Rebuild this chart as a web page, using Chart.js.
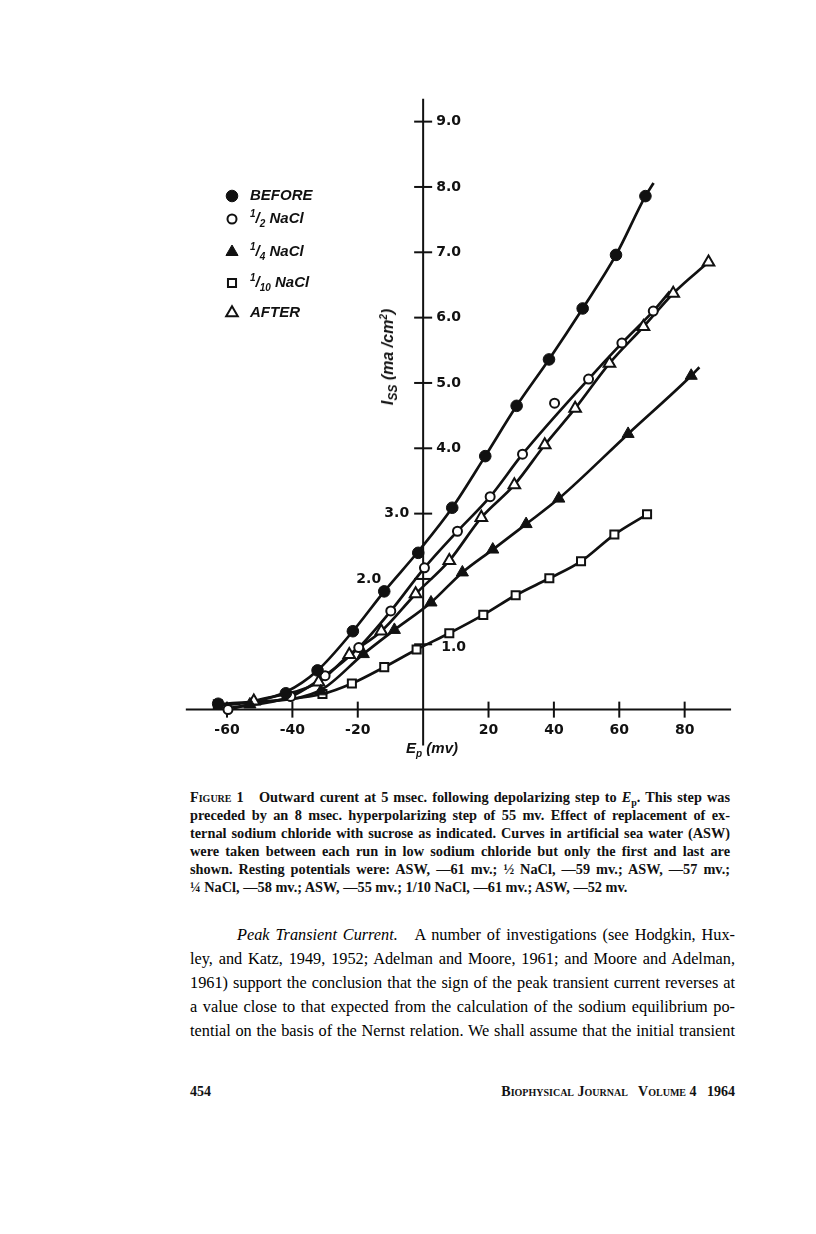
<!DOCTYPE html>
<html>
<head>
<meta charset="utf-8">
<script src="https://cdn.jsdelivr.net/npm/chart.js@4.4.0/dist/chart.umd.min.js"></script>
<style>
  html, body { margin:0; padding:0; background:#fff; }
  body { width:816px; height:1234px; position:relative; overflow:hidden; color:#111; }
  #chart-box { position:absolute; left:170px; top:70px; width:580px; height:700px; }
  .legend { position:absolute; left:250px; height:20px; line-height:20px; margin-top:-10px;
            font: italic bold 15px "Liberation Sans", Arial, sans-serif; white-space:nowrap; }
  .legend sup, .legend sub { font-size:10px; line-height:0; }
  .axis-title { position:absolute; font: italic bold 15px "Liberation Sans", Arial, sans-serif; white-space:nowrap; }
  .axis-title sub, .axis-title sup { font-size:10px; line-height:0; }
  #ytitle { left:388px; top:357px; transform: translate(-50%,-50%) rotate(-90deg); font-size:16px; }
  #ytitle sub { font-size:12px; }
  #xtitle { left:432px; top:747px; transform: translate(-50%,-50%); }
  .block { position:absolute; left:190px; font-family:"Liberation Serif", "Times New Roman", serif; }
  .line { display:block; white-space:nowrap; }
  .line sub { line-height:0; font-size:70%; }
  #caption { top:788px; width:540px; font-size:14.3px; font-weight:bold; line-height:18px; }
  #caption .line { width:540px; }
  #body { top:923px; width:545px; font-size:16.3px; line-height:24px; color:#000; }
  #body .line { width:545px; }
  #body .line.indent { margin-left:47px; width:498px; }
  .sc { font-variant: small-caps; }
  #footer { top:1083px; width:545px; font-size:14px; font-weight:bold; line-height:18px; }
  #footer .right { position:absolute; right:0; top:0; }
</style>
</head>
<body>

<div id="chart-box"><canvas id="fig1" width="580" height="700"></canvas></div>

<!-- legend text (markers are drawn on the canvas) -->
<div class="legend" style="top:196px">BEFORE</div>
<div class="legend" style="top:219px"><sup>1</sup>/<sub>2</sub> NaCl</div>
<div class="legend" style="top:252px"><sup>1</sup>/<sub>4</sub> NaCl</div>
<div class="legend" style="top:283px"><sup>1</sup>/<sub>10</sub> NaCl</div>
<div class="legend" style="top:313px">AFTER</div>

<div class="axis-title" id="ytitle">I<sub>SS</sub> (ma /cm<sup>2</sup>)</div>
<div class="axis-title" id="xtitle">E<sub>p</sub> (mv)</div>

<div class="block" id="caption">
  <span class="line"><span><span class="sc">Figure</span> 1&nbsp;&nbsp; Outward curent at 5 msec. following depolarizing step to <i>E</i><sub>p</sub>. This step was</span></span>
  <span class="line"><span>preceded by an 8 msec. hyperpolarizing step of 55 mv. Effect of replacement of ex-</span></span>
  <span class="line"><span>ternal sodium chloride with sucrose as indicated. Curves in artificial sea water (ASW)</span></span>
  <span class="line"><span>were taken between each run in low sodium chloride but only the first and last are</span></span>
  <span class="line"><span>shown. Resting potentials were: ASW, —61 mv.; ½ NaCl, —59 mv.; ASW, —57 mv.;</span></span>
  <span class="line last"><span>¼ NaCl, —58 mv.; ASW, —55 mv.; 1/10 NaCl, —61 mv.; ASW, —52 mv.</span></span>
</div>

<div class="block" id="body">
  <span class="line indent"><span><i>Peak Transient Current.</i>&nbsp;&nbsp; A number of investigations (see Hodgkin, Hux-</span></span>
  <span class="line"><span>ley, and Katz, 1949, 1952; Adelman and Moore, 1961; and Moore and Adelman,</span></span>
  <span class="line"><span>1961) support the conclusion that the sign of the peak transient current reverses at</span></span>
  <span class="line"><span>a value close to that expected from the calculation of the sodium equilibrium po-</span></span>
  <span class="line"><span>tential on the basis of the Nernst relation. We shall assume that the initial transient</span></span>
</div>

<div class="block" id="footer">
  <span>454</span>
  <span class="right sc">Biophysical Journal&nbsp;&nbsp; Volume 4&nbsp;&nbsp; 1964</span>
</div>

<script>
//data: E_p in mv, I_ss in ma/cm2

//BEFORE (filled circles)
const beforeX = [-62.7, -42, -32.3, -21.5, -11.9, -1.5, 8.9, 19, 28.6, 38.5, 48.8, 59, 68];
const beforeY = [0.09, 0.25, 0.6, 1.2, 1.81, 2.4, 3.09, 3.88, 4.65, 5.36, 6.14, 6.96, 7.86];
const beforeLineX = [-62.7, -52, -42, -32.3, -21.5, -11.9, -1.5, 8.9, 19, 28.6, 38.5, 48.8, 59, 68, 70.5];
const beforeLineY = [0.06, 0.12, 0.27, 0.6, 1.2, 1.81, 2.42, 3.09, 3.88, 4.65, 5.36, 6.14, 6.96, 7.86, 8.06];

//1/2 NaCl (open circles)
const halfX = [-59.7, -40.5, -30, -19.7, -9.9, 0.4, 10.5, 20.5, 30.4, 40.2, 50.6, 60.8, 70.4];
const halfY = [0.0, 0.2, 0.52, 0.95, 1.51, 2.17, 2.73, 3.26, 3.91, 4.69, 5.06, 5.61, 6.1];
const halfLineX = [-59.7, -40.5, -30, -19.7, -9.9, 0.4, 10.5, 20.5, 30.4, 50.6, 60.8, 70.4, 75.5];
const halfLineY = [0.02, 0.2, 0.52, 0.95, 1.51, 2.17, 2.73, 3.26, 3.91, 5.06, 5.61, 6.1, 6.4];

//1/4 NaCl (filled triangles)
const quarterX = [-53, -31.3, -18.3, -8.8, 2.4, 12, 21.3, 31.5, 41.5, 62.7, 82];
const quarterY = [0.08, 0.28, 0.85, 1.22, 1.64, 2.1, 2.45, 2.84, 3.23, 4.22, 5.11];
const quarterLineX = [-58, -53, -31.3, -18.3, -8.8, 2.4, 12, 21.3, 31.5, 41.5, 62.7, 82, 84.5];
const quarterLineY = [0.02, 0.08, 0.3, 0.85, 1.22, 1.64, 2.1, 2.45, 2.84, 3.23, 4.22, 5.11, 5.24];

//1/10 NaCl (open squares)
const tenthX = [-62.8, -30.8, -21.8, -11.9, -2, 8, 18.4, 28.3, 38.6, 48.3, 58.5, 68.5];
const tenthY = [0.08, 0.24, 0.4, 0.65, 0.92, 1.17, 1.45, 1.75, 2.01, 2.27, 2.68, 2.99];

//AFTER (open triangles)
const afterX = [-51.8, -32, -22.6, -12.8, -2.3, 8, 17.8, 27.9, 37.2, 46.5, 57, 67.4, 76.5, 87.3];
const afterY = [0.13, 0.42, 0.84, 1.2, 1.77, 2.28, 2.94, 3.44, 4.05, 4.61, 5.3, 5.86, 6.37, 6.85];

//axes
const xTickValues = [-60, -40, -20, 20, 40, 60, 80];
const xTickLabels = ['-60', '-40', '-20', '20', '40', '60', '80'];
const yTickValues = [1, 2, 3, 4, 5, 6, 7, 8, 9];
const yTickLabels = ['1.0', '2.0', '3.0', '4.0', '5.0', '6.0', '7.0', '8.0', '9.0'];
const xAxisRange = [-72.6, 94.2];
const yAxisRange = [-0.55, 9.35];

/////////////////////////////////////////////////////////
//functions

//turns two arrays into chart.js points
function pts(xs, ys){
	return xs.map(function(x, i){ return {x: x, y: ys[i]}; });
}

//a smooth black curve with no markers
function curve(xs, ys){
	return {
		data: pts(xs, ys),
		showLine: true,
		pointRadius: 0,
		borderColor: '#111',
		borderWidth: 2.7,
		cubicInterpolationMode: 'monotone',
		order: 2
	};
}

//marker styles, used for the plot and for the legend
const styles = {
	before:  {pointStyle: 'circle',   radius: 5.8, fill: '#111', borderWidth: 1},
	half:    {pointStyle: 'circle',   radius: 4.5, fill: '#fff', borderWidth: 2},
	quarter: {pointStyle: 'triangle', radius: 7,   fill: '#111', borderWidth: 1},
	tenth:   {pointStyle: 'rect',     radius: 5.7, fill: '#fff', borderWidth: 2},
	after:   {pointStyle: 'triangle', radius: 6.7, fill: '#fff', borderWidth: 2}
};

function markers(xs, ys, s){
	return {
		data: pts(xs, ys),
		showLine: false,
		pointStyle: s.pointStyle,
		pointRadius: s.radius,
		pointBackgroundColor: s.fill,
		pointBorderColor: '#111',
		pointBorderWidth: s.borderWidth,
		order: 0
	};
}

//axes through zero with ticks on both sides, plus the legend markers
const crossAxes = {
	id: 'crossAxes',
	beforeDatasetsDraw: function(chart){
		const ctx = chart.ctx;
		const xs = chart.scales.x, ys = chart.scales.y;
		const x0 = xs.getPixelForValue(0), y0 = ys.getPixelForValue(0);
		ctx.save();
		ctx.strokeStyle = '#111';
		ctx.fillStyle = '#111';
		ctx.lineWidth = 2;
		ctx.beginPath();
		ctx.moveTo(xs.getPixelForValue(xAxisRange[0]), y0);
		ctx.lineTo(xs.getPixelForValue(xAxisRange[1]), y0);
		ctx.moveTo(x0, ys.getPixelForValue(yAxisRange[0]));
		ctx.lineTo(x0, ys.getPixelForValue(yAxisRange[1]));
		ctx.stroke();

		ctx.font = 'bold 14px "DejaVu Sans", sans-serif';
		ctx.textBaseline = 'middle';
		//x ticks
		ctx.textAlign = 'center';
		for(let i = 0; i < xTickValues.length; i++){
			const px = xs.getPixelForValue(xTickValues[i]);
			ctx.beginPath();
			ctx.moveTo(px, y0 - 8);
			ctx.lineTo(px, y0 + 8);
			ctx.stroke();
			ctx.fillText(xTickLabels[i], px, y0 + 21);
		}
		//y ticks, 2.0 and 3.0 sit left of the axis in the original
		for(let i = 0; i < yTickValues.length; i++){
			const py = ys.getPixelForValue(yTickValues[i]);
			ctx.beginPath();
			ctx.moveTo(x0 - 9, py);
			ctx.lineTo(x0 + 9, py);
			ctx.stroke();
			if(yTickValues[i] == 2){
				ctx.textAlign = 'right';
				ctx.fillText(yTickLabels[i], x0 - 42, py);
			}else if(yTickValues[i] == 3){
				ctx.textAlign = 'right';
				ctx.fillText(yTickLabels[i], x0 - 14, py);
			}else if(yTickValues[i] == 1){
				ctx.textAlign = 'left';
				ctx.fillText(yTickLabels[i], x0 + 18, py + 3);
			}else{
				ctx.textAlign = 'left';
				ctx.fillText(yTickLabels[i], x0 + 13, py);
			}
		}

		//legend markers (page position minus canvas offset)
		const legendRows = [['before', 196], ['half', 219], ['quarter', 252], ['tenth', 283], ['after', 313]];
		legendRows.forEach(function(row){
			const s = styles[row[0]];
			ctx.fillStyle = s.fill;
			ctx.lineWidth = s.borderWidth;
			Chart.helpers.drawPoint(ctx, {pointStyle: s.pointStyle, radius: s.radius, rotation: 0, borderWidth: s.borderWidth}, 232 - 170, row[1] - 70);
		});
		ctx.restore();
	}
};

//justifies each text line to the width of its box
function fitLines(){
	document.querySelectorAll('.line').forEach(function(line){
		if(line.classList.contains('last')) return;
		const inner = line.firstElementChild;
		const natural = inner.getBoundingClientRect().width;
		const spaces = (inner.textContent.match(/[ \u00a0]/g) || []).length;
		if(spaces > 0){
			line.style.wordSpacing = ((line.clientWidth - natural) / spaces) + 'px';
		}
	});
}

///////////////////////////////////////////////////////////////////////////////
//code

//x: 0 mv at page x 422, 3.37 px per mv; y: 0 at page y 717, 67 px per ma/cm2
const fig = new Chart(document.getElementById('fig1'), {
	type: 'scatter',
	data: {
		datasets: [
			curve(beforeLineX, beforeLineY),
			curve(halfLineX, halfLineY),
			curve(quarterLineX, quarterLineY),
			curve(tenthX, tenthY),
			curve(afterX, afterY),
			markers(beforeX, beforeY, styles.before),
			markers(halfX, halfY, styles.half),
			markers(quarterX, quarterY, styles.quarter),
			markers(tenthX, tenthY, styles.tenth),
			markers(afterX, afterY, styles.after)
		]
	},
	options: {
		responsive: false,
		animation: false,
		layout: {padding: 0},
		plugins: {legend: {display: false}, tooltip: {enabled: false}},
		scales: {
			x: {type: 'linear', min: -74.78, max: 97.33, display: false},
			y: {type: 'linear', min: -0.791, max: 9.657, display: false}
		}
	},
	plugins: [crossAxes]
});

fitLines();
</script>
</body>
</html>
